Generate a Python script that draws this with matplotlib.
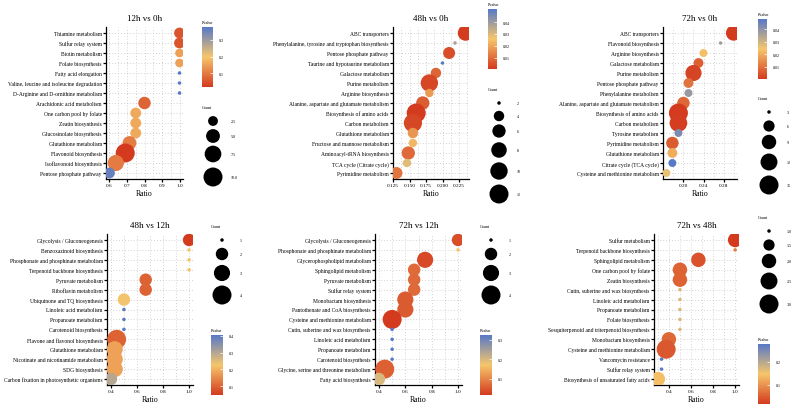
import numpy as np
import matplotlib
matplotlib.use("Agg")
import matplotlib.pyplot as plt
from matplotlib.colors import LinearSegmentedColormap, Normalize
from matplotlib.cm import ScalarMappable
from matplotlib.ticker import MultipleLocator, FixedLocator

plt.rcParams['font.family'] = ['Liberation Serif', 'DejaVu Serif']

# ---- data: 12h vs 0h
p1_terms = ["Thiamine metabolism", "Sulfur relay system", "Biotin metabolism", "Folate biosynthesis",
            "Fatty acid elongation", "Valine, leucine and isoleucine degradation",
            "D-Arginine and D-ornithine metabolism", "Arachidonic acid metabolism",
            "One carbon pool by folate", "Zeatin biosynthesis", "Glucosinolate biosynthesis",
            "Glutathione metabolism", "Flavonoid biosynthesis", "Isoflavonoid biosynthesis",
            "Pentose phosphate pathway"]
p1_ratio = [1.0, 1.0, 1.0, 1.0, 1.0, 1.0, 1.0, 0.8, 0.75, 0.75, 0.75, 0.714, 0.69, 0.636, 0.6]
p1_count = [3, 3, 2, 2, 1, 1, 1, 4, 3, 3, 3, 5, 10, 7, 3]
p1_pval = [0.05, 0.05, 0.15, 0.15, 0.378, 0.378, 0.378, 0.07, 0.16, 0.16, 0.16, 0.10, 0.016, 0.10, 0.36]

# ---- data: 48h vs 0h
p2_terms = ["ABC transporters", "Phenylalanine, tyrosine and tryptophan biosynthesis",
            "Pentose phosphate pathway", "Taurine and hypotaurine metabolism", "Galactose metabolism",
            "Purine metabolism", "Arginine biosynthesis", "Alanine, aspartate and glutamate metabolism",
            "Biosynthesis of amino acids", "Carbon metabolism", "Glutathione metabolism",
            "Fructose and mannose metabolism", "Aminoacyl-tRNA biosynthesis",
            "TCA cycle (Citrate cycle)", "Pyrimidine metabolism"]
p2_ratio = [0.235, 0.219, 0.21, 0.2, 0.19, 0.18, 0.18, 0.17, 0.16, 0.155, 0.155, 0.155, 0.148, 0.146, 0.13]
p2_count = [8, 2, 5, 2, 4, 10, 3, 6, 12, 11, 4, 3, 6, 3, 5]
p2_pval = [0.001, 0.038, 0.004, 0.051, 0.008, 0.003, 0.018, 0.007, 0.0005, 0.003, 0.017, 0.023,
           0.009, 0.029, 0.011]

# ---- data: 72h vs 0h
p3_terms = ["ABC transporters", "Flavonoid biosynthesis", "Arginine biosynthesis", "Galactose metabolism",
            "Purine metabolism", "Pentose phosphate pathway", "Phenylalanine metabolism",
            "Alanine, aspartate and glutamate metabolism", "Biosynthesis of amino acids",
            "Carbon metabolism", "Tyrosine metabolism", "Pyrimidine metabolism", "Glutathione metabolism",
            "Citrate cycle (TCA cycle)", "Cysteine and methionine metabolism"]
p3_ratio = [0.30, 0.274, 0.24, 0.23, 0.22, 0.21, 0.21, 0.20, 0.19, 0.19, 0.19, 0.178, 0.178, 0.178, 0.166]
p3_count = [10, 3, 4, 5, 11, 5, 4, 7, 15, 13, 4, 7, 5, 4, 4]
p3_pval = [0.0005, 0.037, 0.023, 0.007, 0.002, 0.01, 0.038, 0.008, 0.0003, 0.001, 0.042, 0.006,
           0.02, 0.048, 0.026]

# ---- data: 48h vs 12h
p4_terms = ["Glycolysis / Gluconeogenesis", "Benzoxazinoid biosynthesis",
            "Phosphonate and phosphinate metabolism", "Terpenoid backbone biosynthesis",
            "Pyruvate metabolism", "Riboflavin metabolism", "Ubiquinone and TQ biosynthesis",
            "Linoleic acid metabolism", "Propanoate metabolism", "Carotenoid biosynthesis",
            "Flavone and flavonol biosynthesis", "Glutathione metabolism",
            "Nicotinate and nicotinamide metabolism", "SDG biosynthesis",
            "Carbon fixation in photosynthetic organisms"]
p4_ratio = [1.0, 1.0, 1.0, 1.0, 0.667, 0.667, 0.5, 0.5, 0.5, 0.5, 0.444, 0.429, 0.429, 0.429, 0.4]
p4_count = [2, 1, 1, 1, 2, 2, 2, 1, 1, 1, 4, 3, 3, 3, 2]
p4_pval = [0.047, 0.22, 0.22, 0.22, 0.10, 0.10, 0.23, 0.405, 0.405, 0.405, 0.10, 0.18, 0.18, 0.18, 0.30]

# ---- data: 72h vs 12h
p5_terms = ["Glycolysis / Gluconeogenesis", "Phosphonate and phosphinate metabolism",
            "Glycerophospholipid metabolism", "Sphingolipid metabolism", "Pyruvate metabolism",
            "Sulfur relay system", "Monobactam biosynthesis", "Pantothenate and CoA biosynthesis",
            "Cysteine and methionine metabolism", "Cutin, suberine and wax biosynthesis",
            "Linoleic acid metabolism", "Propanoate metabolism", "Carotenoid biosynthesis",
            "Glycine, serine and threonine metabolism", "Fatty acid biosynthesis"]
p5_ratio = [1.0, 1.0, 0.75, 0.667, 0.667, 0.667, 0.6, 0.6, 0.5, 0.5, 0.5, 0.5, 0.5, 0.444, 0.4]
p5_count = [2, 1, 3, 2, 2, 2, 3, 3, 4, 1, 1, 1, 1, 4, 2]
p5_pval = [0.04, 0.17, 0.035, 0.07, 0.07, 0.07, 0.055, 0.055, 0.018, 0.325, 0.325, 0.325, 0.325,
           0.06, 0.20]

# ---- data: 72h vs 48h
p6_terms = ["Sulfur metabolism", "Terpenoid backbone biosynthesis", "Sphingolipid metabolism",
            "One carbon pool by folate", "Zeatin biosynthesis", "Cutin, suberine and wax biosynthesis",
            "Linoleic acid metabolism", "Propanoate metabolism", "Folate biosynthesis",
            "Sesquiterpenoid and triterpenoid biosynthesis", "Monobactam biosynthesis",
            "Cysteine and methionine metabolism", "Vancomycin resistance", "Sulfur relay system",
            "Biosynthesis of unsaturated fatty acids"]
p6_ratio = [1.0, 1.0, 0.667, 0.5, 0.5, 0.5, 0.5, 0.5, 0.5, 0.5, 0.4, 0.375, 0.333, 0.333, 0.3]
p6_count = [2, 1, 2, 2, 2, 1, 1, 1, 1, 1, 2, 3, 1, 1, 2]
p6_pval = [0.017, 0.08, 0.04, 0.055, 0.055, 0.17, 0.17, 0.17, 0.17, 0.17, 0.06, 0.045, 0.278, 0.278, 0.14]

titles = ["12h vs 0h", "48h vs 0h", "72h vs 0h", "48h vs 12h", "72h vs 12h", "72h vs 48h"]
count_breaks = [[2.5, 5.0, 7.5, 10.0], [2, 4, 6, 8, 10, 12], [3, 6, 9, 12, 15],
                [1, 2, 3, 4], [1, 2, 3, 4], [1.0, 1.5, 2.0, 2.5, 3.0]]
count_labels = [["2.5", "5.0", "7.5", "10.0"], ["2", "4", "6", "8", "10", "12"],
                ["3", "6", "9", "12", "15"], ["1", "2", "3", "4"], ["1", "2", "3", "4"],
                ["1.0", "1.5", "2.0", "2.5", "3.0"]]
p_ticks = [[0.1, 0.2, 0.3], [0.01, 0.02, 0.03, 0.04], [0.01, 0.02, 0.03, 0.04],
           [0.1, 0.2, 0.3, 0.4], [0.1, 0.2, 0.3], [0.1, 0.2]]
x_ticks = [[0.6, 0.7, 0.8, 0.9, 1.0], [0.125, 0.150, 0.175, 0.200, 0.225], [0.20, 0.24, 0.28],
           [0.4, 0.6, 0.8, 1.0], [0.4, 0.6, 0.8, 1.0], [0.4, 0.6, 0.8, 1.0]]
x_fmt = ["%.1f", "%.3f", "%.2f", "%.1f", "%.1f", "%.1f"]
x_minor = [0.05, 0.0125, 0.02, 0.1, 0.1, 0.1]

# ---- layout in pixels (left, top, right, bottom)
W, H = 794, 406
ax_px = [(106, 28, 183, 180), (393, 28, 469, 180), (663, 28, 737, 180),
         (107, 235, 193, 386), (375, 235, 462, 386), (654, 235, 739, 386)]
cbar_px = [(202, 28, 213, 88), (488, 10, 497, 70), (758, 20, 767, 80),
           (211, 336, 223, 396), (480, 336, 492, 396), (758, 345, 770, 405)]
leg_px = [(202, 108, [122, 137, 155, 178]), (488, 90, [104, 117, 132, 151, 172, 195]),
          (758, 99, [113, 127, 143, 163, 186]), (211, 227, [241, 255, 274, 296]),
          (480, 227, [241, 255, 274, 296]), (758, 218, [232, 246, 262, 282, 305])]

cmap = LinearSegmentedColormap.from_list("pv", ["#D33A1E", "#F6C66C", "#5779C7"])


def box(l, t, r, b):
    return [l / W, 1 - b / H, (r - l) / W, (b - t) / H]


def area(c, cmin, cmax):
    # ggplot-like area scale, diameter 3.5..19 px
    d = 3.5 + 15.5 * np.sqrt((np.asarray(c, float) - cmin) / (cmax - cmin))
    return (d * 0.72) ** 2


fig = plt.figure(figsize=(W / 100, H / 100), dpi=100)
lg = fig.add_axes([0, 0, 1, 1])
lg.set_xlim(0, W)
lg.set_ylim(H, 0)
lg.axis("off")

panels = [(p1_terms, p1_ratio, p1_count, p1_pval), (p2_terms, p2_ratio, p2_count, p2_pval),
          (p3_terms, p3_ratio, p3_count, p3_pval), (p4_terms, p4_ratio, p4_count, p4_pval),
          (p5_terms, p5_ratio, p5_count, p5_pval), (p6_terms, p6_ratio, p6_count, p6_pval)]

for i, (terms, ratio, count, pval) in enumerate(panels):
    ax = fig.add_axes(box(*ax_px[i]))
    n = len(terms)
    ypos = np.arange(n)[::-1]
    cmin, cmax = min(count), max(count)
    norm = Normalize(min(pval), max(pval))
    ax.scatter(ratio, ypos, s=area(count, cmin, cmax), c=pval, cmap=cmap, norm=norm,
               linewidths=0, zorder=3)
    r = max(ratio) - min(ratio)
    ax.set_xlim(min(ratio) - 0.05 * r, max(ratio) + 0.05 * r)
    ax.set_ylim(-0.6, n - 0.4)
    ax.set_yticks(ypos)
    ax.set_yticklabels(terms, fontsize=4.0)
    ax.xaxis.set_major_locator(FixedLocator(x_ticks[i]))
    ax.set_xticklabels([x_fmt[i] % v for v in x_ticks[i]], fontsize=3.8)
    ax.xaxis.set_minor_locator(MultipleLocator(x_minor[i]))
    ax.grid(True, which="both", axis="x", color="#c4c4c4", linestyle=(0, (1, 2.5)), linewidth=0.6)
    ax.grid(True, which="major", axis="y", color="#c4c4c4", linestyle=(0, (1, 2.5)), linewidth=0.6)
    ax.set_axisbelow(True)
    for s in ["top", "right"]:
        ax.spines[s].set_visible(False)
    for s in ["left", "bottom"]:
        ax.spines[s].set_linewidth(0.9)
    ax.tick_params(axis="both", which="major", length=2, width=0.9, pad=1)
    ax.tick_params(axis="x", which="minor", length=0)
    ax.set_xlabel("Ratio", fontsize=5.6, labelpad=1)
    ax.set_title(titles[i], fontsize=6.5, pad=5)

    # Pvalue colour bar
    cl, ct, cr, cb = cbar_px[i]
    cax = fig.add_axes(box(cl, ct, cr, cb))
    cbar = fig.colorbar(ScalarMappable(norm=norm, cmap=cmap), cax=cax)
    cbar.outline.set_visible(False)
    cbar.set_ticks(p_ticks[i])
    cbar.set_ticklabels([("%g" % v) for v in p_ticks[i]])
    cax.tick_params(direction="in", color="white", length=2.5, width=0.5, labelsize=3.0, pad=4)
    lg.text(cl, ct - 5, "Pvalue", fontsize=3.1, ha="left", va="center")

    # Count size legend
    gx, gy, ys = leg_px[i]
    lg.text(gx, gy, "Count", fontsize=3.1, ha="left", va="center")
    lg.scatter([gx + 11] * len(ys), ys, s=area(count_breaks[i], cmin, cmax), color="black",
               linewidths=0)
    for yy, lab in zip(ys, count_labels[i]):
        lg.text(gx + 29, yy, lab, fontsize=3.0, ha="left", va="center")

fig.savefig("out.png", dpi=100)
